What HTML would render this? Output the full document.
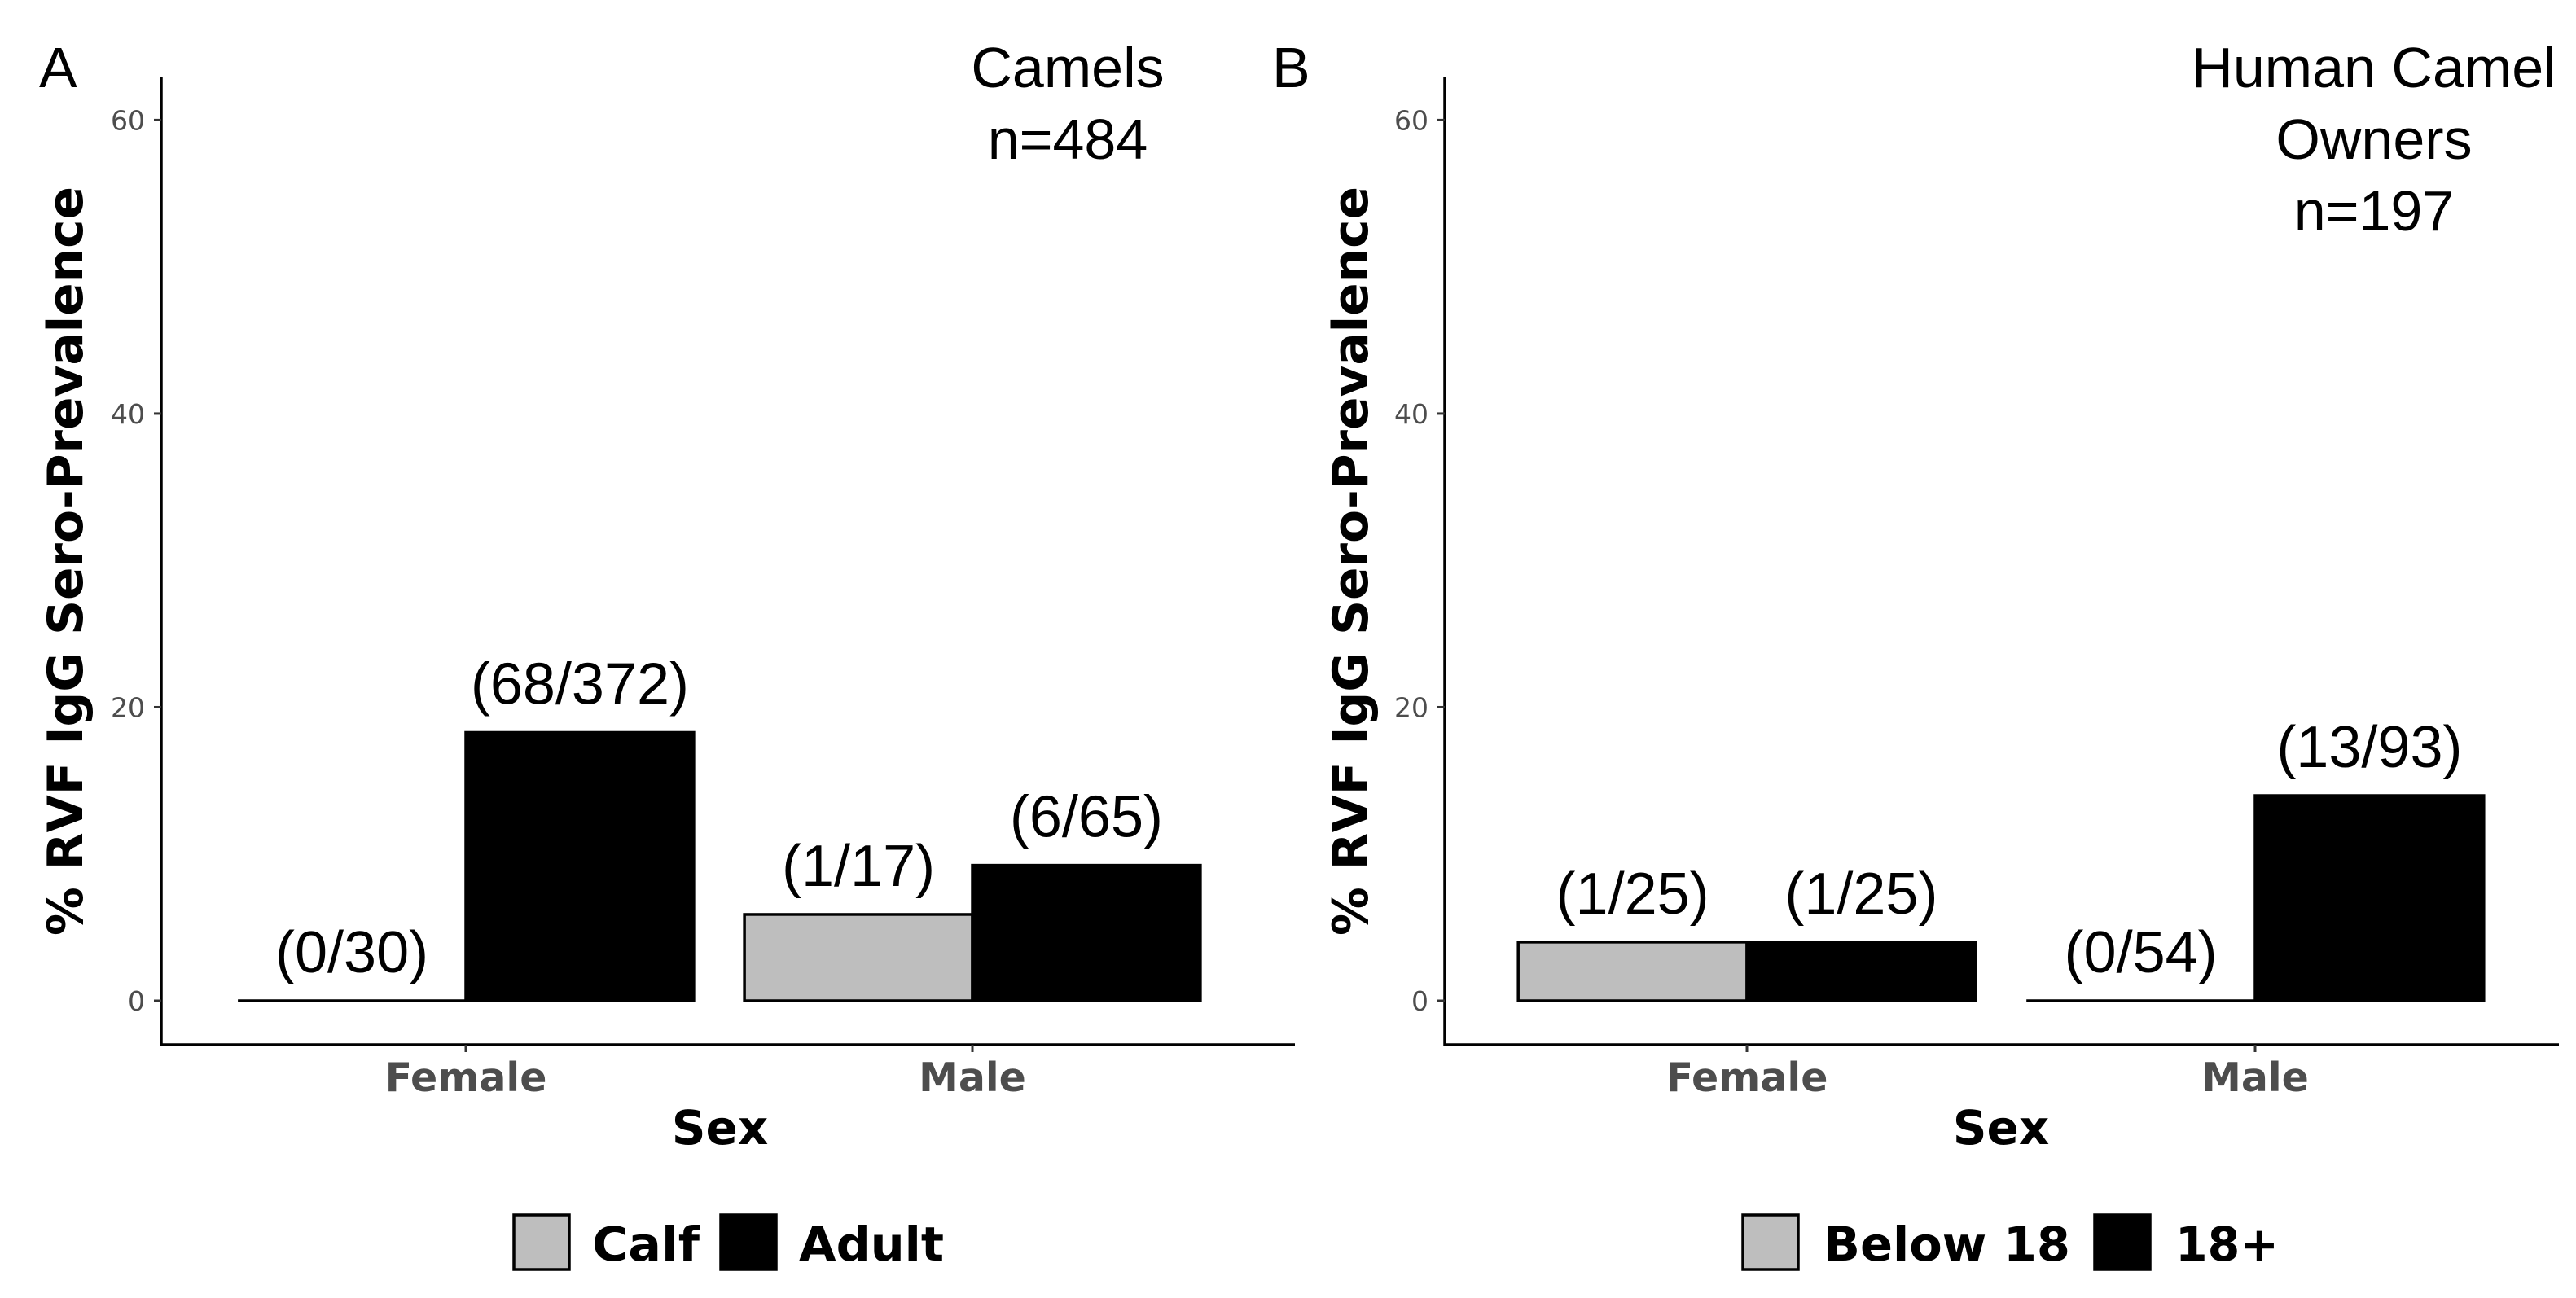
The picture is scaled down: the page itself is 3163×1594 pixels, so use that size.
<!DOCTYPE html>
<html><head><meta charset="utf-8"><style>
html,body{margin:0;padding:0;background:#fff;width:3163px;height:1594px;overflow:hidden}
svg{display:block}
</style></head><body>
<svg id="chart" width="3163" height="1594" viewBox="0 0 3163 1594" xmlns="http://www.w3.org/2000/svg"></svg>
<script>
const categories = ["Female", "Male"];
const yTicks = [0, 20, 40, 60];
const seriesA = ["Calf", "Adult"];
const positivesA = [[0, 68], [1, 6]];
const totalsA = [[30, 372], [17, 65]];
const seriesB = ["Below 18", "18+"];
const positivesB = [[1, 1], [0, 13]];
const totalsB = [[25, 25], [54, 93]];
const fills = ["#bebebe", "#000000"];

const NS = "http://www.w3.org/2000/svg";
const svg = document.getElementById("chart");
function mk(tag, attrs, parent, text) {
  const e = document.createElementNS(NS, tag);
  for (const k in attrs) e.setAttribute(k, attrs[k]);
  if (text !== undefined) e.textContent = text;
  (parent || svg).appendChild(e);
  return e;
}
const SANS = "'DejaVu Sans', 'Liberation Sans', sans-serif";
const LIB = "'Liberation Sans', Arial, sans-serif";

function panel(p) {
  const g = mk("g", {});
  
  
  const y0 = 1229, unit = (1229 - 147.4) / 60;
  const yS = v => y0 - v * unit;
  const xS = i => p.c0 + i * p.step;
  const bw = p.step * 0.45;
  const L = mk("text", {x: p.letterX, y: 107, "font-family": LIB, "font-size": 70, fill: "#000"}, g, p.letter);
  
  
  p.title.forEach((t, i) => {
    const e = mk("text", {x: p.titleX, y: 107 + i * 88, "font-family": LIB, "font-size": 70, "text-anchor": "middle", fill: "#000"}, g, t);
    
    
  });
  categories.forEach((c, ci) => {
    p.pos[ci].forEach((pv, si) => {
      const val = 100 * pv / p.tot[ci][si];
      const x = xS(ci) - bw + si * bw;
      const top = yS(val);
      let r;
      if (val > 0) {
        r = mk("rect", {x: x, y: top, width: bw, height: y0 - top, fill: fills[si], stroke: "#000", "stroke-width": 3.5}, g);
      } else {
        r = mk("line", {x1: x, y1: y0, x2: x + bw, y2: y0, stroke: "#000", "stroke-width": 3.5}, g);
      }
      
      
      const t = mk("text", {x: x + bw / 2, y: top - 35, "font-family": LIB, "font-size": 72, "text-anchor": "middle", fill: "#000"}, g, "(" + pv + "/" + p.tot[ci][si] + ")");
      
      
    });
  });
  const ya = mk("line", {x1: p.ax, y1: 94, x2: p.ax, y2: 1284.5, stroke: "#000", "stroke-width": 3.5}, g);
  
  
  const xa = mk("line", {x1: p.ax - 1.5, y1: 1283, x2: p.axEnd, y2: 1283, stroke: "#000", "stroke-width": 3.5}, g);
  
  
  yTicks.forEach(v => {
    mk("line", {x1: p.ax - 9, y1: yS(v), x2: p.ax, y2: yS(v), stroke: "#333", "stroke-width": 3}, g);
    const t = mk("text", {x: p.ax - 20, y: yS(v) + 12, "font-family": SANS, "font-size": 33, "text-anchor": "end", fill: "#4d4d4d"}, g, String(v));
    
    
  });
  categories.forEach((c, ci) => {
    mk("line", {x1: xS(ci), y1: 1283, x2: xS(ci), y2: 1292, stroke: "#333", "stroke-width": 3}, g);
    const t = mk("text", {x: xS(ci), y: 1340, "font-family": SANS, "font-size": 49, "font-weight": "bold", "text-anchor": "middle", fill: "#4d4d4d"}, g, c);
    
    
  });
  const xt = mk("text", {x: p.sexX, y: 1405, "font-family": SANS, "font-size": 58, "font-weight": "bold", "text-anchor": "middle", fill: "#000"}, g, "Sex");
  
  
  const yt = mk("text", {x: 0, y: 0, transform: "translate(" + p.ytX + ",689) rotate(-90)", "font-family": SANS, "font-size": 60, "font-weight": "bold", "text-anchor": "middle", fill: "#000", textLength: 920, lengthAdjust: "spacingAndGlyphs"}, g, "% RVF IgG Sero-Prevalence");
  
  
  p.series.forEach((s, si) => {
    const b = mk("rect", {x: p.legBox[si], y: 1492, width: 68, height: 67, fill: fills[si], stroke: "#000", "stroke-width": 3.5}, g);
    
    
    const t = mk("text", {x: p.legText[si], y: 1548, "font-family": SANS, "font-size": 58, "font-weight": "bold", fill: "#000", textLength: p.legLen[si], lengthAdjust: "spacingAndGlyphs"}, g, s);
    
    
  });
}

panel({name: "panel-a-camels", letter: "A", letterX: 48, title: ["Camels", "n=484"], titleX: 1311,
  c0: 572, step: 622, ax: 198, axEnd: 1590, sexX: 884, ytX: 101,
  series: seriesA, pos: positivesA, tot: totalsA,
  legBox: [631, 885], legText: [727, 981], legLen: [132, 178]});
panel({name: "panel-b-human-owners", letter: "B", letterX: 1562, title: ["Human Camel", "Owners", "n=197"], titleX: 2915,
  c0: 2145, step: 624, ax: 1774, axEnd: 3142, sexX: 2457, ytX: 1679,
  series: seriesB, pos: positivesB, tot: totalsB,
  legBox: [2140, 2572], legText: [2239, 2671], legLen: [303, 127]});
</script>
</body></html>
